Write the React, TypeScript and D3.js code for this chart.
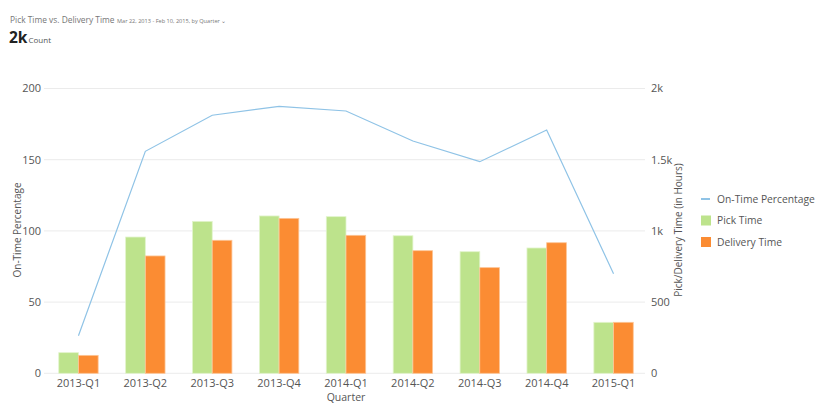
import { useEffect, useRef } from "react";
import * as d3 from "d3";

const quarters = [
  "2013-Q1", "2013-Q2", "2013-Q3", "2013-Q4",
  "2014-Q1", "2014-Q2", "2014-Q3", "2014-Q4", "2015-Q1",
];
const pickTime = [145, 957, 1067, 1105, 1100, 966, 854, 880, 358];
const deliveryTime = [126, 824, 934, 1088, 969, 861, 742, 917, 358];
const onTimePct = [26.4, 155.9, 181.2, 187.5, 184.2, 163.1, 148.6, 170.9, 69.9];
const leftTicks = [0, 50, 100, 150, 200];
const rightTicks = [0, 500, 1000, 1500, 2000];

const GREEN = "#bde38c";
const ORANGE = "#fb8c33";
const BLUE = "#8fc3e6";
const FONT = "'Open Sans', 'Noto Sans', sans-serif";

export default function App() {
  const ref = useRef<SVGSVGElement | null>(null);

  useEffect(() => {
    if (!ref.current) return;
    const svg = d3.select(ref.current);
    svg.selectAll("*").remove();

    const left = 45;
    const right = 647;
    const top = 88.5;
    const bottom = 373.3;

    const x = d3.scaleBand().domain(quarters).range([left, right]).padding(0);
    const bw = x.bandwidth();
    const sub = d3
      .scaleBand()
      .domain(["pick", "delivery"])
      .range([bw / 2 - 19.7, bw / 2 + 19.7])
      .padding(0);
    const yL = d3.scaleLinear().domain([0, 200]).range([bottom, top]);
    const yR = d3.scaleLinear().domain([0, 2000]).range([bottom, top]);

    const g = svg.append("g").style("font-family", FONT);

    // gridlines
    g.selectAll("line.grid")
      .data(leftTicks)
      .join("line")
      .attr("x1", left - 1)
      .attr("x2", right - 2)
      .attr("y1", (d) => yL(d))
      .attr("y2", (d) => yL(d))
      .attr("stroke", "#ebebeb")
      .attr("stroke-width", 1);

    // left ticks
    g.selectAll("text.lt")
      .data(leftTicks)
      .join("text")
      .attr("x", 41)
      .attr("y", (d) => yL(d))
      .attr("dy", "0.35em")
      .attr("text-anchor", "end")
      .attr("font-size", 11)
      .attr("fill", "#555")
      .text((d) => String(d));

    // right ticks
    const fmt = (d: number) => (d === 0 ? "0" : d >= 1000 ? `${d / 1000}k` : String(d));
    g.selectAll("text.rt")
      .data(rightTicks)
      .join("text")
      .attr("x", 651)
      .attr("y", (d) => yR(d))
      .attr("dy", "0.35em")
      .attr("text-anchor", "start")
      .attr("font-size", 11)
      .attr("fill", "#555")
      .text((d) => fmt(d));

    // bars
    const rows = quarters.map((q, i) => ({ q, pick: pickTime[i], delivery: deliveryTime[i] }));
    const grp = g
      .selectAll("g.q")
      .data(rows)
      .join("g")
      .attr("transform", (d) => `translate(${x(d.q)},0)`);
    grp
      .append("rect")
      .attr("x", sub("pick")!)
      .attr("width", sub.bandwidth())
      .attr("y", (d) => yR(d.pick))
      .attr("height", (d) => bottom - yR(d.pick))
      .attr("fill", GREEN)
      .attr("stroke", "#e2f4cc")
      .attr("stroke-width", 0.8);
    grp
      .append("rect")
      .attr("x", sub("delivery")!)
      .attr("width", sub.bandwidth())
      .attr("y", (d) => yR(d.delivery))
      .attr("height", (d) => bottom - yR(d.delivery))
      .attr("fill", ORANGE)
      .attr("stroke", "#fdc596")
      .attr("stroke-width", 0.8);

    // line
    const line = d3
      .line<number>()
      .x((_, i) => (x(quarters[i]) ?? 0) + bw / 2)
      .y((d) => yL(d));
    g.append("path")
      .datum(onTimePct)
      .attr("d", line)
      .attr("fill", "none")
      .attr("stroke", BLUE)
      .attr("stroke-width", 1.2);

    // x tick labels
    g.selectAll("text.xt")
      .data(quarters)
      .join("text")
      .attr("x", (d) => (x(d) ?? 0) + bw / 2)
      .attr("y", 387)
      .attr("text-anchor", "middle")
      .attr("font-size", 11)
      .attr("fill", "#555")
      .text((d) => d);

    // axis titles
    g.append("text")
      .attr("x", (left + right) / 2)
      .attr("y", 401)
      .attr("text-anchor", "middle")
      .attr("font-size", 10.5)
      .attr("fill", "#555")
      .text("Quarter");
    g.append("text")
      .attr("transform", `translate(21,230) rotate(-90)`)
      .attr("text-anchor", "middle")
      .attr("font-size", 10)
      .attr("fill", "#555")
      .text("On-Time Percentage");
    g.append("text")
      .attr("transform", `translate(682,230) rotate(-90)`)
      .attr("text-anchor", "middle")
      .attr("font-size", 10)
      .attr("fill", "#555")
      .text("Pick/Delivery Time (in Hours)");

    // legend
    const legend = [
      { label: "On-Time Percentage", kind: "line", color: BLUE },
      { label: "Pick Time", kind: "box", color: GREEN },
      { label: "Delivery Time", kind: "box", color: ORANGE },
    ];
    const lg = g
      .selectAll("g.lg")
      .data(legend)
      .join("g")
      .attr("transform", (_, i) => `translate(701,${199 + i * 21.5})`);
    lg.each(function (d) {
      const s = d3.select(this);
      if (d.kind === "line") {
        s.append("line")
          .attr("x1", 0)
          .attr("x2", 9)
          .attr("y1", 0)
          .attr("y2", 0)
          .attr("stroke", d.color)
          .attr("stroke-width", 2);
      } else {
        s.append("rect")
          .attr("x", 0)
          .attr("y", -5)
          .attr("width", 10)
          .attr("height", 10)
          .attr("fill", d.color);
      }
      s.append("text")
        .attr("x", 16)
        .attr("y", 0)
        .attr("dy", "0.35em")
        .attr("font-size", 10.3)
        .attr("fill", "#555")
        .text(d.label);
    });

    // header
    g.append("text")
      .attr("x", 10)
      .attr("y", 23)
      .attr("font-size", 8.4)
      .attr("fill", "#777")
      .text("Pick Time vs. Delivery Time");
    g.append("text")
      .attr("x", 117)
      .attr("y", 23)
      .attr("font-size", 5.6)
      .attr("fill", "#777")
      .text("Mar 22, 2013 - Feb 10, 2015, by Quarter  \u2304");
    const big = g.append("text").attr("x", 9).attr("y", 43).attr("fill", "#222");
    big.append("tspan").attr("font-size", 15.5).attr("font-weight", "bold").text("2k");
    big.append("tspan").attr("font-size", 8).attr("fill", "#555").attr("dx", 1).text("Count");
  }, []);

  return (
    <svg
      ref={ref}
      width={820}
      height={420}
      style={{ position: "absolute", left: 0, top: 0, background: "#fff" }}
    />
  );
}
